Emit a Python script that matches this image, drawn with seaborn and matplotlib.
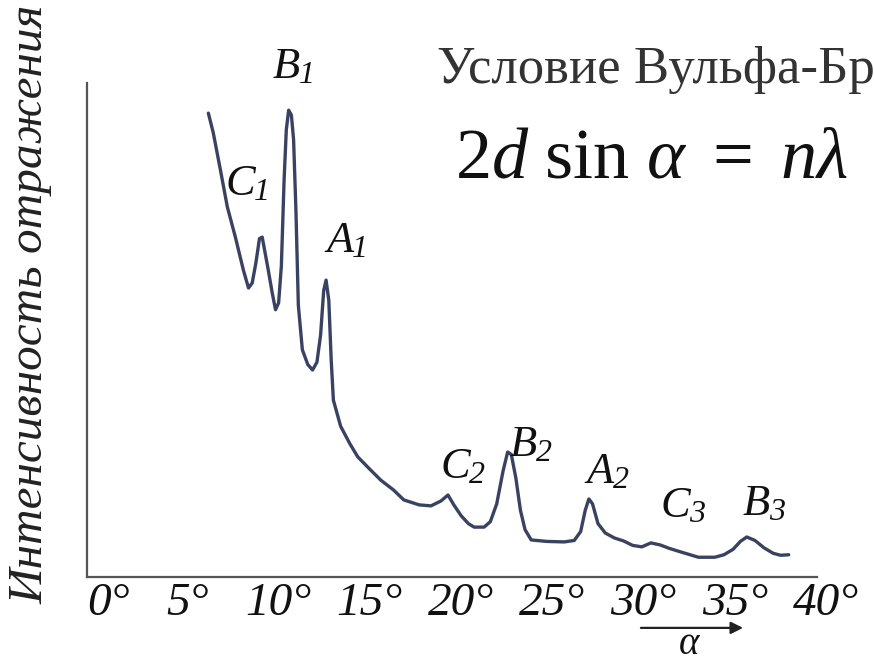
import numpy as np
import pandas as pd
import seaborn as sns
import matplotlib.pyplot as plt
from matplotlib.transforms import ScaledTranslation

sns.set_theme(style="white")
plt.rcParams['font.family'] = ['Liberation Serif', 'DejaVu Serif']
plt.rcParams['mathtext.fontset'] = 'custom'
plt.rcParams['mathtext.rm'] = 'Liberation Serif'
plt.rcParams['mathtext.it'] = 'Liberation Serif:italic'
plt.rcParams['mathtext.bf'] = 'Liberation Serif:bold'

# ---- data ----
alpha_deg = [6.65, 6.92, 7.31, 7.69, 8.13, 8.57, 8.85, 9.05, 9.25, 9.45, 9.6, 9.9, 10.15,
             10.33, 10.5, 10.65, 10.8, 10.92, 11.05, 11.2, 11.32, 11.45, 11.58, 11.8, 12.1,
             12.36, 12.6, 12.8, 12.97, 13.1, 13.25, 13.38, 13.5, 13.9, 14.4, 14.84, 15.5,
             16.1, 16.8, 17.36, 18.2, 18.85, 19.4, 19.78, 20.1, 20.5, 20.9, 21.21, 21.76,
             22.1, 22.45, 22.8, 23.05, 23.25, 23.5, 23.75, 24.0, 24.34, 25.2, 26.15, 26.7,
             27.05, 27.3, 27.5, 27.7, 28.0, 28.4, 28.9, 29.4, 29.9, 30.4, 30.9, 31.4, 31.9,
             32.6, 33.5, 34.4, 34.9, 35.4, 35.8, 36.15, 36.6, 37.1, 37.6, 38.0, 38.45]
intensity = [93.9, 89.9, 82.4, 74.9, 68.8, 62.1, 58.5, 59.5, 63.5, 68.5, 68.8, 62.8, 57.5,
             54.1, 55.5, 63.0, 80.4, 90.5, 94.5, 93.5, 88.5, 74.0, 55.0, 46.0, 43.0,
             41.9, 43.5, 49.0, 58.0, 60.1, 56.0, 44.0, 35.8, 30.5, 27.0, 24.3, 21.8,
             19.6, 17.6, 15.6, 14.6, 14.4, 15.4, 16.6, 14.6, 12.4, 10.8, 10.1, 10.1,
             11.2, 14.8, 21.5, 25.3, 24.8, 20.0, 13.5, 9.6, 7.5, 7.2, 7.1, 7.4,
             9.2, 13.5, 15.8, 14.8, 10.8, 8.9, 7.9, 7.3, 6.4, 6.1, 6.9, 6.5, 5.8,
             5.0, 4.0, 4.0, 4.5, 5.6, 7.2, 8.1, 7.4, 5.9, 4.8, 4.4, 4.5]

tick_values = [0, 5, 10, 15, 20, 25, 30, 35, 40]
tick_labels = ['0°', '5°', '10°', '15°', '20°', '25°', '30°', '35°', '40°']

peak_letters = ['B', 'C', 'A', 'C', 'B', 'A', 'C', 'B']
peak_index = ['1', '1', '1', '2', '2', '2', '3', '3']
peak_label_x = [11.67, 9.2, 14.58, 20.99, 24.66, 28.88, 33.04, 37.42]
peak_label_y = [101.0, 77.3, 65.8, 20.0, 24.5, 19.0, 12.1, 12.6]

y_label = 'Интенсивность отражения'
title_text = 'Условие Вульфа-Бр'
formula = r'$2d\ \sin\,\alpha\ =\ n\lambda$'

# ---- figure ----
W, H = 874, 663
fig = plt.figure(figsize=(W / 100, H / 100), dpi=100)
fig.patch.set_facecolor('white')
ax = fig.add_axes([87 / W, 1 - 577 / H, 730 / W, 494 / H])
ax.set_facecolor('white')

df = pd.DataFrame({'alpha': alpha_deg, 'I': intensity})
sns.lineplot(data=df, x='alpha', y='I', ax=ax, color='#3a4262', linewidth=2.4,
             estimator=None, sort=False)
for ln in ax.lines:
    ln.set_solid_joinstyle('round')
    ln.set_solid_capstyle('round')

ax.set_xlim(0, 40)
ax.set_ylim(0, 100)
ax.set_xlabel('')
ax.set_ylabel('')
ax.set_yticks([])
ax.set_xticks(tick_values[1:])
ax.tick_params(axis='x', direction='inout', length=11, width=1.3, color='#555555',
               labelbottom=False)

# tick labels drawn as texts (italic serif, shifted right like the original)
for v, lab in zip(tick_values, tick_labels):
    dx = 21 if v == 0 else 9
    ax.text(v, 0, lab,
            transform=ax.transData + ScaledTranslation(dx / 100, -27 / 100, fig.dpi_scale_trans),
            ha='center', va='center', fontsize=34, fontstyle='italic', color='#111111',
            clip_on=False)

for s in ['top', 'right']:
    ax.spines[s].set_visible(False)
for s in ['left', 'bottom']:
    ax.spines[s].set_color('#555555')
    ax.spines[s].set_linewidth(1.6)

# peak labels: italic letter + italic subscript
for let, idx, px, py in zip(peak_letters, peak_index, peak_label_x, peak_label_y):
    ax.text(px, py, let, ha='right', va='baseline', fontsize=32, fontstyle='italic',
            color='#111111', clip_on=False)
    ax.text(px, py, idx,
            transform=ax.transData + ScaledTranslation(-1 / 100, -5 / 100, fig.dpi_scale_trans),
            ha='left', va='baseline', fontsize=23, fontstyle='italic',
            color='#111111', clip_on=False)

# alpha arrow
ax.annotate('', xy=(36.1, -10.3), xytext=(30.2, -10.3), xycoords='data',
            arrowprops=dict(arrowstyle='-|>', color='#222222', lw=1.6, mutation_scale=18),
            annotation_clip=False)
ax.text(33.0, -13.6, r'$\alpha$', ha='center', va='center', fontsize=28, color='#111111',
        clip_on=False)

fig.text(31 / W, 1 - 304 / H, y_label, rotation=90, ha='center', va='center',
         fontsize=35.5, fontstyle='italic', color='#222222')
fig.text(437 / W, 1 - 70 / H, title_text, ha='left', va='center', fontsize=38, color='#333333')
fig.text(455 / W, 1 - 160 / H, formula, ha='left', va='center', fontsize=52, color='#111111')

fig.savefig('out.png', dpi=100, facecolor='white')
